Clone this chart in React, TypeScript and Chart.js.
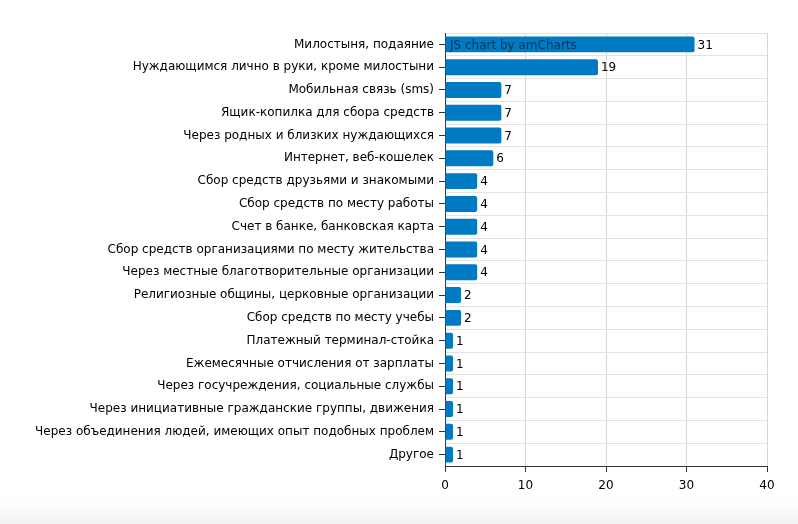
import React, { useEffect, useRef } from "react";
import { Chart, registerables } from "chart.js";

Chart.register(...registerables);

const categories: string[] = [
  "Милостыня, подаяние",
  "Нуждающимся лично в руки, кроме милостыни",
  "Мобильная связь (sms)",
  "Ящик-копилка для сбора средств",
  "Через родных и близких нуждающихся",
  "Интернет, веб-кошелек",
  "Сбор средств друзьями и знакомыми",
  "Сбор средств по месту работы",
  "Счет в банке, банковская карта",
  "Сбор средств организациями по месту жительства",
  "Через местные благотворительные организации",
  "Религиозные общины, церковные организации",
  "Сбор средств по месту учебы",
  "Платежный терминал-стойка",
  "Ежемесячные отчисления от зарплаты",
  "Через госучреждения, социальные службы",
  "Через инициативные гражданские группы, движения",
  "Через объединения людей, имеющих опыт подобных проблем",
  "Другое",
];

const values: number[] = [31, 19, 7, 7, 7, 6, 4, 4, 4, 4, 4, 2, 2, 1, 1, 1, 1, 1, 1];

const xMin = 0;
const xMax = 40;
const xStep = 10;

const FONT = "'DejaVu Sans', Verdana, sans-serif";

const valueLabels = {
  id: "valueLabels",
  afterDatasetsDraw(chart: any) {
    const ctx = chart.ctx;
    const meta = chart.getDatasetMeta(0);
    ctx.save();
    ctx.font = `12px ${FONT}`;
    ctx.fillStyle = "#000";
    ctx.textAlign = "left";
    ctx.textBaseline = "middle";
    meta.data.forEach((el: any, i: number) => {
      ctx.fillText(String(values[i]), el.x + 3, el.y + 1);
    });
    ctx.restore();
  },
};

const watermark = {
  id: "watermark",
  afterDraw(chart: any) {
    const ctx = chart.ctx;
    const meta = chart.getDatasetMeta(0);
    const el = meta.data[0];
    ctx.save();
    ctx.font = `12px ${FONT}`;
    ctx.fillStyle = "rgba(0,0,0,0.55)";
    ctx.textAlign = "left";
    ctx.textBaseline = "middle";
    ctx.fillText("JS chart by amCharts", chart.chartArea.left + 5, el.y + 1);
    ctx.restore();
  },
};

export default function App() {
  const ref = useRef<HTMLCanvasElement | null>(null);
  useEffect(() => {
    if (!ref.current) return;
    const chart = new Chart(ref.current, {
      type: "bar",
      data: {
        labels: categories,
        datasets: [
          {
            data: values,
            backgroundColor: "#007ac3",
            borderWidth: 0,
            borderRadius: 2,
            borderSkipped: "start",
            barPercentage: 0.7,
            categoryPercentage: 1,
          },
        ],
      },
      plugins: [valueLabels, watermark],
      options: {
        indexAxis: "y",
        responsive: false,
        animation: false,
        events: [],
        layout: { padding: { top: 33, right: 31, left: 0, bottom: 0 } },
        plugins: { legend: { display: false }, tooltip: { enabled: false } },
        scales: {
          x: {
            type: "linear",
            min: xMin,
            max: xMax,
            position: "bottom",
            ticks: {
              stepSize: xStep,
              color: "#000",
              font: { family: FONT, size: 12 },
              padding: 7,
            },
            grid: {
              color: "#d6d6d6",
              tickColor: "#333",
              tickLength: 6,
            },
            border: { color: "#333", width: 1 },
            afterFit: (s: any) => {
              s.height = 58;
            },
          },
          y: {
            type: "category",
            position: "left",
            weight: 1,
            offset: true,
            ticks: {
              color: "#000",
              font: { family: FONT, size: 12 },
              padding: 5,
              autoSkip: false,
            },
            grid: {
              offset: false,
              drawOnChartArea: false,
              tickColor: "#333",
              tickLength: 6,
            },
            border: { color: "#333", width: 1 },
            afterFit: (s: any) => {
              s.width = 445;
            },
          },
          yGrid: {
            type: "category",
            labels: categories,
            position: "left",
            weight: 0,
            offset: true,
            ticks: { display: false },
            grid: {
              offset: true,
              drawTicks: false,
              color: "#e3e3e3",
            },
            border: { display: false },
            afterFit: (s: any) => {
              s.width = 0;
            },
          },
        },
      },
    });
    return () => chart.destroy();
  }, []);
  return (
    <div style={{ position: "fixed", left: 0, top: 0, width: 798, height: 524, background: "#fff", overflow: "hidden" }}>
      <div
        style={{
          position: "absolute",
          left: 0,
          right: 0,
          bottom: 0,
          height: 24,
          background: "linear-gradient(to bottom, rgba(244,244,244,0), #f2f2f2)",
        }}
      />
      <canvas ref={ref} width={798} height={524} style={{ position: "absolute", left: 0, top: 0, display: "block" }} />
    </div>
  );
}
